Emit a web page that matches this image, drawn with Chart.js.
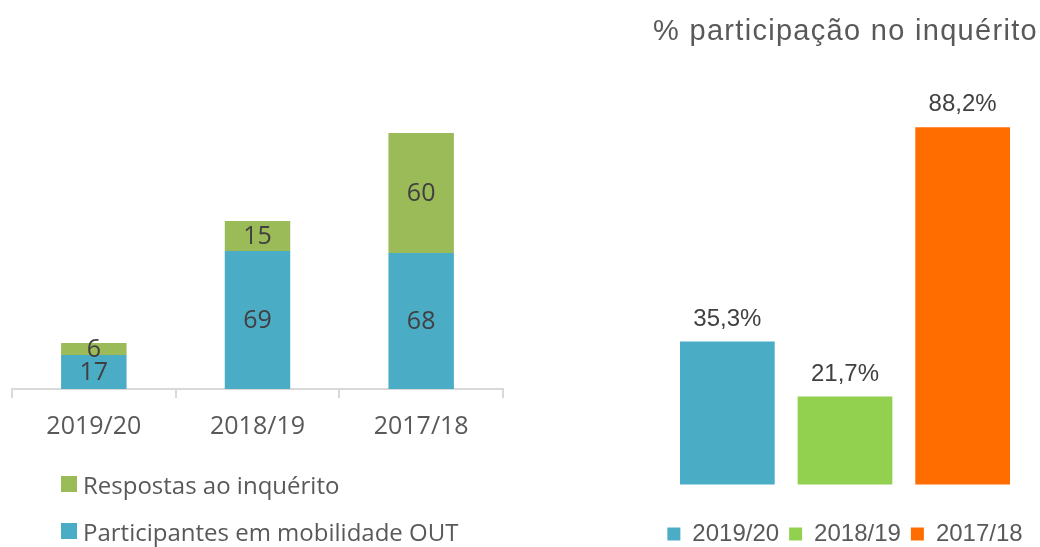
<!DOCTYPE html>
<html>
<head>
<meta charset="utf-8">
<script src="https://cdn.jsdelivr.net/npm/chart.js@4/dist/chart.umd.min.js"></script>
<style>
html,body{margin:0;padding:0;background:#fff;width:1040px;height:547px;overflow:hidden}
#leftWrap{position:absolute;left:0;top:0;width:520px;height:547px}
#rightWrap{position:absolute;left:650px;top:0;width:390px;height:556px}
#rTitle{position:absolute;left:640px;top:13px;width:411px;height:34px;line-height:34px;text-align:center;font-family:'Liberation Sans',sans-serif;font-size:29px;letter-spacing:1.3px;color:#595959;white-space:nowrap}
.legRow{position:absolute;left:61px;height:30px;display:flex;align-items:center;font-family:'Open Sans',sans-serif;font-size:24px;color:#595959;white-space:nowrap}
.legBox{width:16px;height:16px;margin-right:6px;flex:none}
</style>
</head>
<body>
<div id="leftWrap"><canvas id="cLeft"></canvas></div>
<div id="rightWrap"><canvas id="cRight"></canvas></div>
<div id="rTitle"></div>
<div id="legLeft"></div>
<script>
// ---- data ----
const categories = ['2019/20', '2018/19', '2017/18'];
const participantes = [17, 69, 68];
const respostas = [6, 15, 60];
const seriesNames = ['Participantes em mobilidade OUT', 'Respostas ao inquérito'];
const pctTitle = '% participação no inquérito';
const pctLabels = ['2019/20', '2018/19', '2017/18'];
const pctValues = [35.3, 21.7, 88.2];

// ---- styles ----
const leftColors = ['#4BACC6', '#9BBB59'];
const rightColors = ['#4BACC6', '#92D050', '#FF6D00'];

Chart.defaults.animation = false;

const stackLabels = {
  id: 'stackLabels',
  afterDatasetsDraw(chart) {
    const ctx = chart.ctx;
    ctx.save();
    ctx.font = '25px "Open Sans"';
    ctx.fillStyle = '#404040';
    ctx.textAlign = 'center';
    ctx.textBaseline = 'middle';
    chart.data.datasets.forEach((ds, di) => {
      chart.getDatasetMeta(di).data.forEach((el, i) => {
        ctx.fillText(String(ds.data[i]), el.x, (el.y + el.base) / 2 + 1);
      });
    });
    ctx.restore();
  }
};

const topLabels = {
  id: 'topLabels',
  afterDatasetsDraw(chart) {
    const ctx = chart.ctx;
    ctx.save();
    ctx.font = '24px "Liberation Sans"';
    ctx.fillStyle = '#404040';
    ctx.textAlign = 'center';
    ctx.textBaseline = 'alphabetic';
    chart.data.datasets.forEach((ds, di) => {
      chart.getDatasetMeta(di).data.forEach((el, i) => {
        const txt = ds.data[i].toFixed(1).replace('.', ',') + '%';
        ctx.fillText(txt, el.x, el.y - 16);
      });
    });
    ctx.restore();
  }
};

// ---- left chart ----
new Chart(document.getElementById('cLeft'), {
  type: 'bar',
  data: {
    labels: categories,
    datasets: [
      { label: seriesNames[0], data: participantes, backgroundColor: leftColors[0], barPercentage: 0.4, categoryPercentage: 1 },
      { label: seriesNames[1], data: respostas, backgroundColor: leftColors[1], barPercentage: 0.4, categoryPercentage: 1 }
    ]
  },
  options: {
    responsive: true,
    maintainAspectRatio: false,
    devicePixelRatio: 1,
    layout: { padding: { left: 12, right: 17, top: 109, bottom: 91 } },
    plugins: { legend: { display: false }, tooltip: { enabled: false }, title: { display: false } },
    scales: {
      x: {
        stacked: true,
        grid: { offset: true, drawOnChartArea: false, drawTicks: true, tickLength: 9, color: '#d9d9d9', lineWidth: 2 },
        border: { display: true, color: '#d9d9d9', width: 2 },
        ticks: { color: '#595959', font: { family: 'Open Sans', size: 25 }, padding: 14 }
      },
      y: { stacked: true, display: false, min: 0, max: 140 }
    }
  },
  plugins: [stackLabels]
});

// left legend (HTML, reversed order like the reference)
(function () {
  const leg = document.getElementById('legLeft');
  const rows = [[seriesNames[1], leftColors[1], 469], [seriesNames[0], leftColors[0], 516]];
  rows.forEach(([txt, col, top]) => {
    const r = document.createElement('div');
    r.className = 'legRow';
    r.style.top = top + 'px';
    const b = document.createElement('span');
    b.className = 'legBox';
    b.style.background = col;
    const t = document.createElement('span');
    t.textContent = txt;
    r.appendChild(b); r.appendChild(t);
    leg.appendChild(r);
  });
  document.getElementById('rTitle').textContent = pctTitle;
})();

// ---- right chart ----
new Chart(document.getElementById('cRight'), {
  type: 'bar',
  data: {
    labels: [''],
    datasets: pctLabels.map((lab, i) => ({
      label: lab,
      data: [pctValues[i]],
      backgroundColor: rightColors[i],
      barPercentage: 0.805,
      categoryPercentage: 0.905
    }))
  },
  options: {
    responsive: true,
    maintainAspectRatio: false,
    devicePixelRatio: 1,
    layout: { padding: { left: 0, right: 0, top: 46.4, bottom: 0 } },
    plugins: {
      tooltip: { enabled: false },
      title: { display: false },
      legend: {
        position: 'bottom',
        labels: {
          color: '#595959',
          font: { family: 'Liberation Sans', size: 24 },
          boxWidth: 13,
          boxHeight: 13,
          padding: 10
        }
      }
    },
    scales: {
      x: { display: false },
      y: { display: false, min: -6.8, max: 108.2 }
    }
  },
  plugins: [topLabels]
});
</script>
</body>
</html>
